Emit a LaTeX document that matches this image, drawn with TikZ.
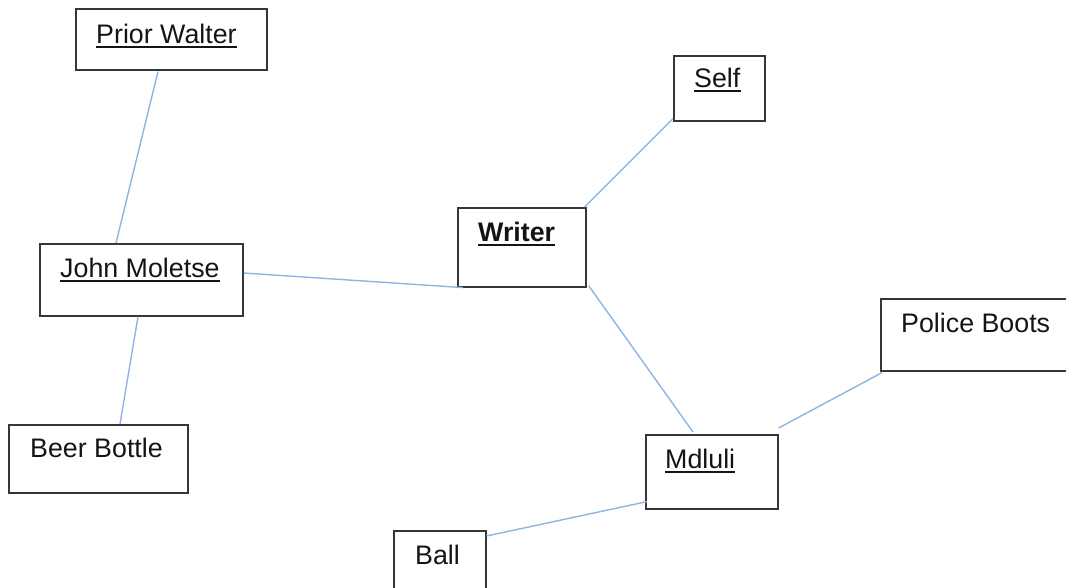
\documentclass[tikz,border=0pt]{standalone}
\usepackage{fontspec}
\setmainfont{Liberation Sans}
\usetikzlibrary{calc}
\definecolor{linkblue}{RGB}{141,180,226}
\definecolor{boxgray}{RGB}{55,55,55}
\begin{document}
\begin{tikzpicture}[x=1pt,y=-1pt,
  box/.style={draw=boxgray, line width=1.6pt, anchor=north west, inner sep=0pt},
  lbl/.style={anchor=base west, inner sep=0pt, font=\fontsize{26.8}{30}\selectfont, text=black!92},
  link/.style={draw=linkblue, line width=1.4pt},
  uline/.style={draw=black!92, line width=2pt}]
\useasboundingbox (0,0) rectangle (1066,587);

% boxes
\node[box, minimum width=191pt, minimum height=61pt] (pw) at (75,8) {};
\node[box, minimum width=203pt, minimum height=72pt] (jm) at (39,243) {};
\node[box, minimum width=179pt, minimum height=68pt] (bb) at (8,424) {};
\node[box, minimum width=128pt, minimum height=79pt] (wr) at (457,207) {};
\node[box, minimum width=91pt,  minimum height=65pt] (sf) at (673,55) {};
\node[box, minimum width=195pt, minimum height=72pt] (pb) at (880,298) {};
\node[box, minimum width=132pt, minimum height=74pt] (md) at (645,434) {};
\node[box, minimum width=92pt,  minimum height=62pt] (ba) at (393,530) {};

% labels
\node[lbl] (pw-t) at (96,43)  {Prior Walter};
\node[lbl] (jm-t) at (60,277) {John Moletse};
\node[lbl] (bb-t) at (30,457) {Beer Bottle};
\node[lbl] (wr-t) at (478,241) {\bfseries Writer};
\node[lbl] (sf-t) at (694,87) {Self};
\node[lbl] (pb-t) at (901,332) {Police Boots};
\node[lbl] (md-t) at (665,468) {Mdluli};
\node[lbl] (ba-t) at (415,564) {Ball};

% underlines of the named labels
\foreach \t in {pw-t,jm-t,wr-t,sf-t,md-t}
  \draw[uline] ($(\t.base west)+(0,3.5)$) -- ($(\t.base east)+(0,3.5)$);

% connectors
\draw[link] ($(pw.south west)+(83,1)$) -- ($(jm.north west)+(77,0)$);
\draw[link] ($(jm.south west)+(99,0)$) -- ($(bb.north west)+(112,0)$);
\draw[link] ($(jm.north east)+(0,30)$) -- ($(wr.south west)+(6,0)$);
\draw[link] ($(wr.north east)+(-2,0)$) -- ($(sf.south west)+(0,-3)$);
\draw[link] ($(wr.south east)+(2,-2)$) -- ($(md.north west)+(48,-2)$);
\draw[link] ($(md.north east)+(0,-6)$) -- ($(pb.south west)+(2,1)$);
\draw[link] ($(md.south west)+(2,-8)$) -- ($(ba.north east)+(0,6)$);
\end{tikzpicture}
\end{document}
